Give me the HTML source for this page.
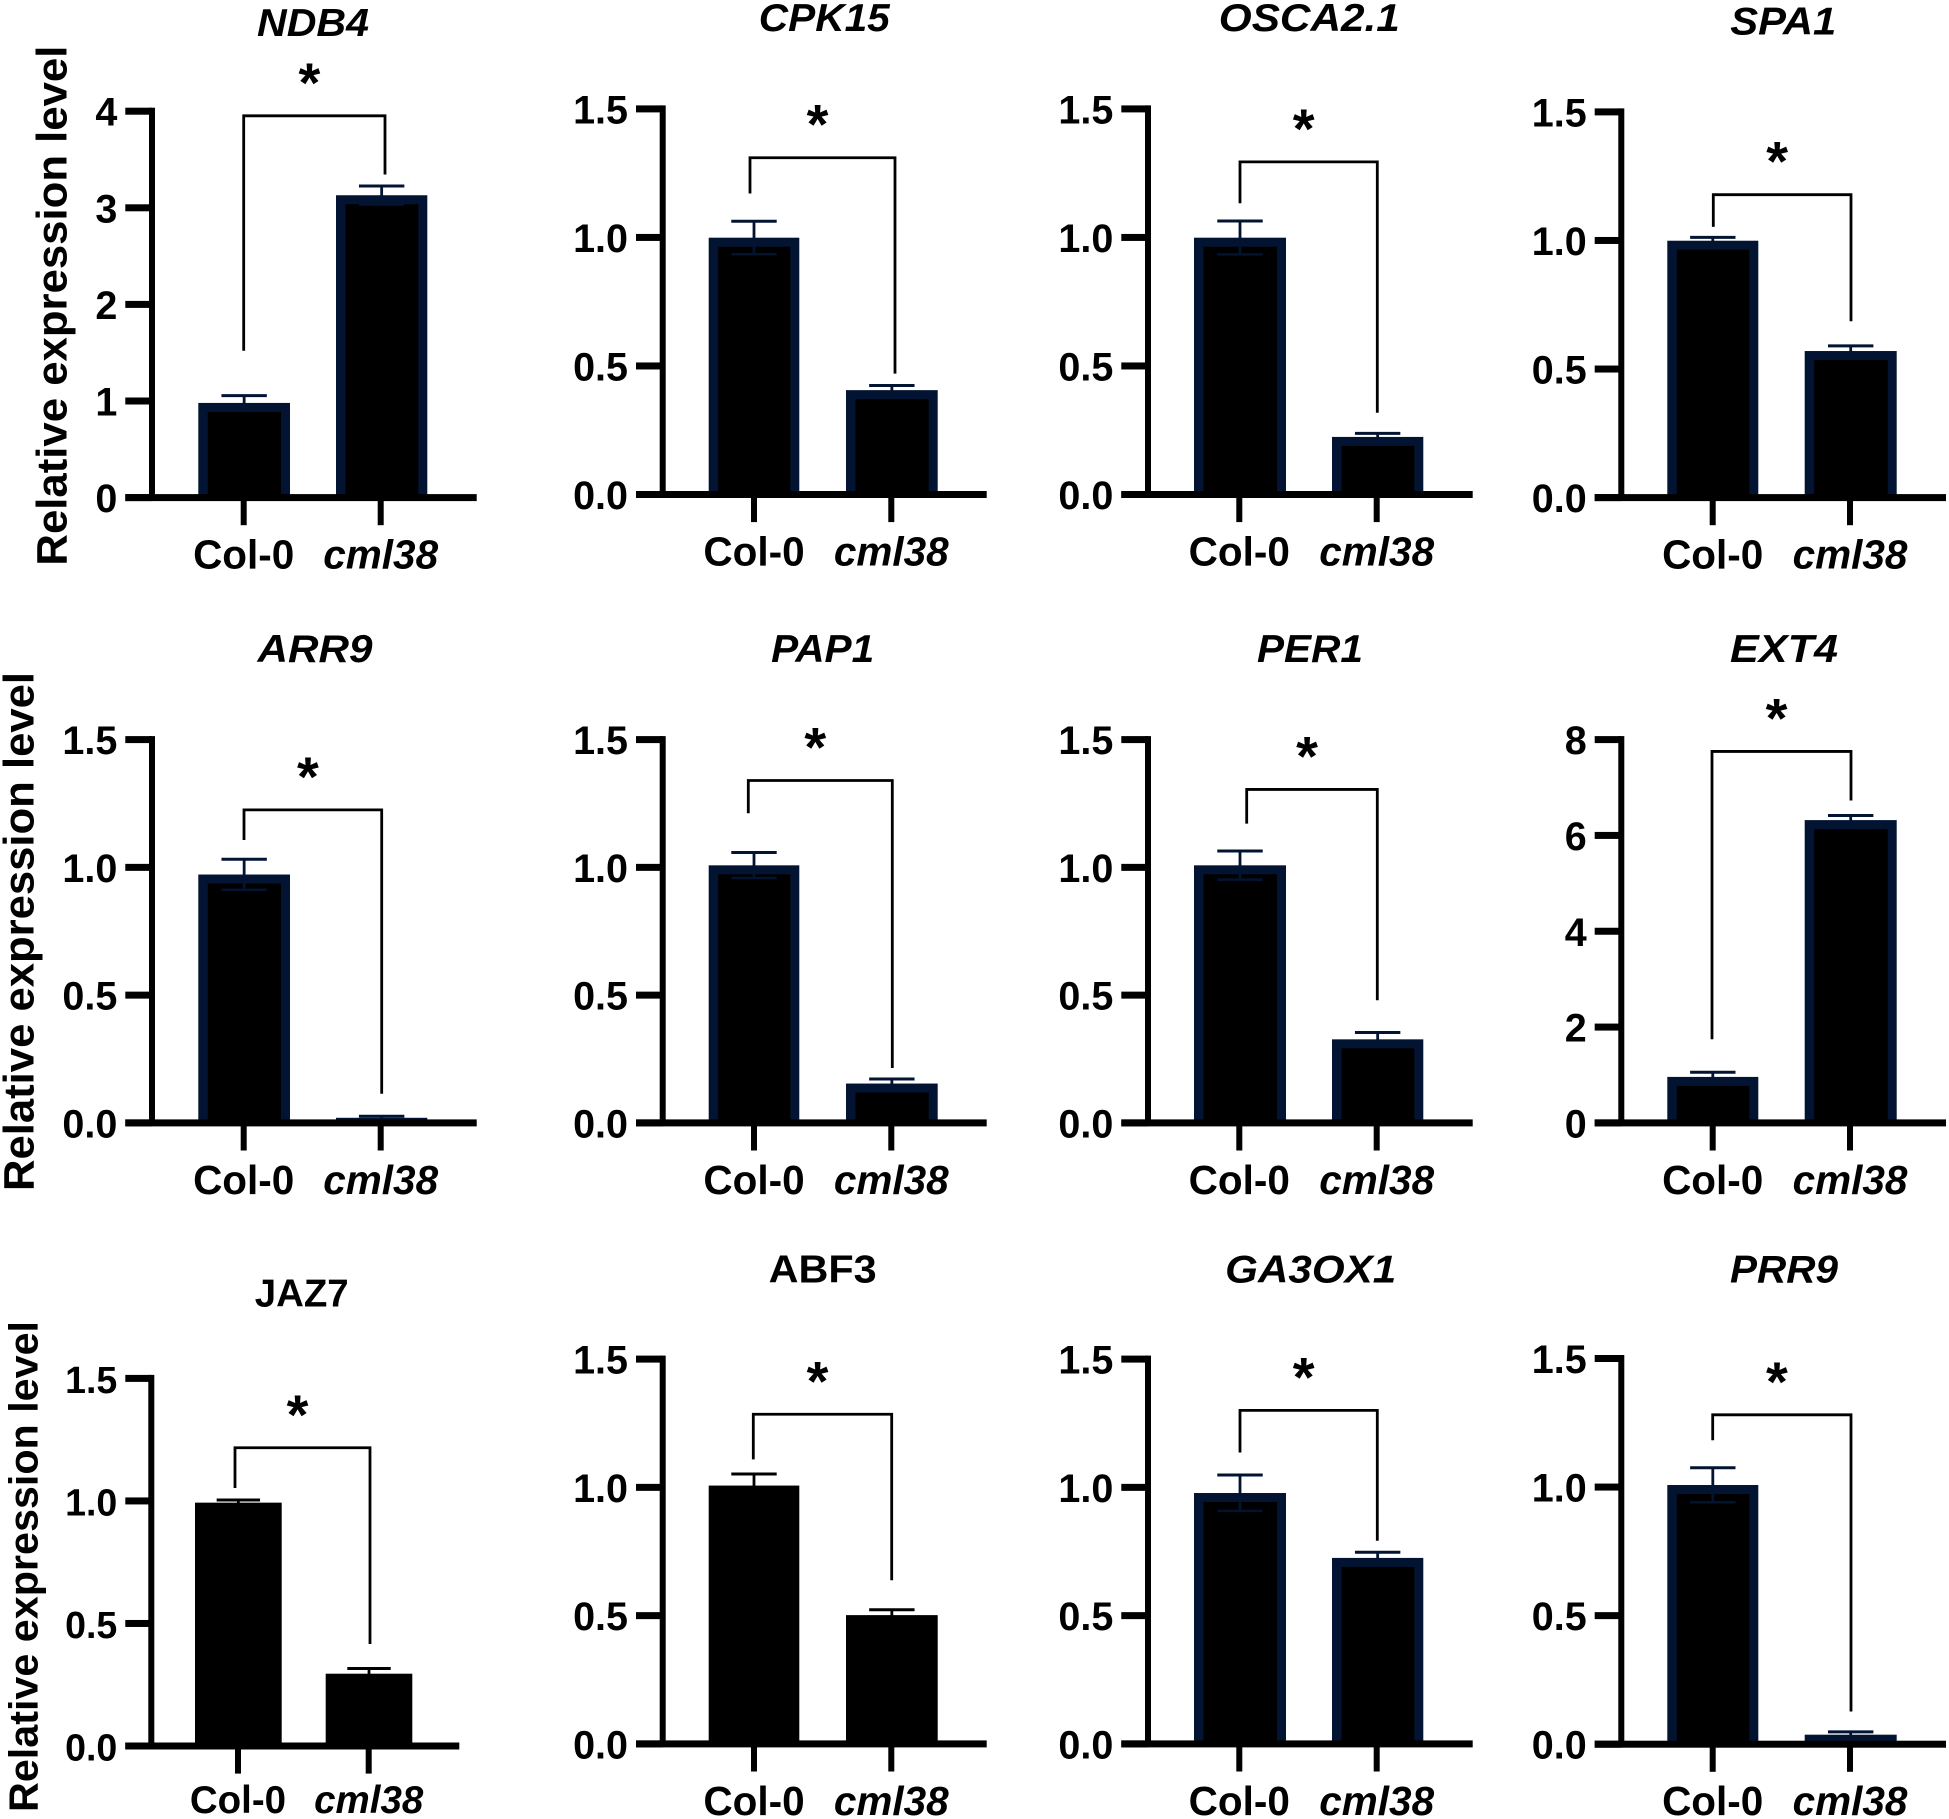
<!DOCTYPE html>
<html lang="en">
<head>
<meta charset="utf-8">
<title>Relative expression of twelve genes in Col-0 and cml38</title>
<style>
html,body{margin:0;padding:0;background:#fff;}
svg{display:block;}
text{font-family:"Liberation Sans",Arial,sans-serif;font-weight:700;fill:#000;}
</style>
</head>
<body>
<svg id="figure" xmlns="http://www.w3.org/2000/svg" width="1949" height="1819" viewBox="0 0 1949 1819">
<rect x="0" y="0" width="1949" height="1819" fill="#ffffff"></rect>
</svg>
<script>
// ---- chart data ----
const genes = ['NDB4','CPK15','OSCA2.1','SPA1','ARR9','PAP1','PER1','EXT4','JAZ7','ABF3','GA3OX1','PRR9'];
const categories = ['Col-0','cml38'];
const yAxisTitle = 'Relative expression level';
const significanceMark = '*';
const col0Values = [0.98,0.999,0.999,0.999,0.972,1.008,1.008,0.96,0.993,1.007,0.978,1.008];
const cml38Values = [3.13,0.406,0.224,0.57,0.02,0.154,0.327,6.32,0.295,0.502,0.725,0.037];
const col0Errors = [0.076,0.064,0.065,0.013,0.06,0.05,0.056,0.096,0.011,0.045,0.07,0.067];
const cml38Errors = [0.096,0.018,0.014,0.02,0.006,0.018,0.027,0.096,0.021,0.021,0.022,0.011];
const ticksNDB4 = ['0','1','2','3','4'];
const ticksStandard = ['0.0','0.5','1.0','1.5'];
const ticksEXT4 = ['0','2','4','6','8'];
const panelTicks = [ticksNDB4,ticksStandard,ticksStandard,ticksStandard,ticksStandard,ticksStandard,ticksStandard,ticksEXT4,ticksStandard,ticksStandard,ticksStandard,ticksStandard];
// significance brackets, in axis units
const bracketTop = [3.952,1.31,1.294,1.178,1.225,1.34,1.305,7.753,1.217,1.285,1.30,1.281];
const bracketLeftEnd = [1.52,1.171,1.133,1.053,1.107,1.212,1.171,1.745,1.053,1.109,1.136,1.182];
const bracketRightEnd = [3.345,0.47,0.318,0.686,0.114,0.215,0.48,6.728,0.416,0.638,0.792,0.127];

// ---- layout (frames only, no values) ----
const colA = {ax:152,tl:125.3,xr:476.7,t1:243.7,t2:380.7,b1:198.3,b1w:91.7,b2:336,b2w:91.3};
const colB = {ax:662.7,tl:636,xr:986.7,t1:754,t2:891.3,b1:708.7,b1w:90.6,b2:846,b2w:91.7};
const colC = {ax:1148,tl:1121.3,xr:1472.7,t1:1239.3,t2:1376.7,b1:1194,b1w:92,b2:1332,b2w:91.3};
const colD = {ax:1621.3,tl:1594.7,xr:1946,t1:1712.7,t2:1850,b1:1667.3,b1w:91,b2:1804.7,b2w:92};
const colJ = {ax:151.3,tl:125.3,xr:459.3,t1:238,t2:368.7,b1:195,b1w:86.7,b2:325.7,b2w:86.6};
const frames = [
  {c:colA,top:111.2,zero:497.6,tx:313,ty:36,tw:112,it:1,nav:1,bl:243.7,br:385,cw:22.7,xs:1,lb:71},
  {c:colB,top:108.9,zero:494.5,tx:824.3,ty:31.2,tw:131,it:1,nav:1,bl:750,br:895,cw:22.7,xs:1,lb:71},
  {c:colC,top:108.9,zero:494.5,tx:1309.3,ty:31.2,tw:181,it:1,nav:1,bl:1240,br:1377.3,cw:22.7,xs:1,lb:71},
  {c:colD,top:111.9,zero:497.6,tx:1783.3,ty:34.3,tw:106,it:1,nav:1,bl:1713.3,br:1851,cw:22.7,xs:1,lb:71},
  {c:colA,top:739.6,zero:1122.9,tx:315,ty:661.9,tw:115,it:1,nav:1,bl:244,br:381.7,cw:22.7,xs:1,lb:71},
  {c:colB,top:739.6,zero:1122.9,tx:822.7,ty:661.9,tw:103,it:1,nav:1,bl:748.3,br:892.3,cw:22.7,xs:1,lb:71},
  {c:colC,top:739.6,zero:1122.9,tx:1310,ty:661.9,tw:106,it:1,nav:1,bl:1246.7,br:1377.3,cw:22.7,xs:1,lb:71},
  {c:colD,top:739.6,zero:1122.9,tx:1784,ty:661.9,tw:108,it:1,nav:1,bl:1712,br:1851,cw:22.7,xs:1,lb:71},
  {c:colJ,top:1378.4,zero:1746,tx:301.7,ty:1306.3,tw:94,it:0,nav:0,bl:235,br:370,cw:21.7,xs:0.95,lb:67},
  {c:colB,top:1359.1,zero:1743.9,tx:822.7,ty:1282.4,tw:108,it:0,nav:0,bl:753.3,br:891.7,cw:22.7,xs:1,lb:71},
  {c:colC,top:1359.1,zero:1743.9,tx:1310.7,ty:1282.4,tw:171,it:1,nav:1,bl:1240,br:1377.3,cw:22.7,xs:1,lb:71},
  {c:colD,top:1358.5,zero:1744.2,tx:1784,ty:1282.3,tw:108,it:1,nav:1,bl:1712.7,br:1851,cw:22.7,xs:1,lb:71}
];
const yTitles = [
  {panel:0,x:66.7,cy:305.6,len:520,fs:43},
  {panel:4,x:33.3,cy:931.5,len:519,fs:43},
  {panel:8,x:37.7,cy:1566.5,len:491,fs:41}
];

const NS = 'http://www.w3.org/2000/svg';
const svg = document.getElementById('figure');
const NAVY = '#021431';
function make(tag, parent, attrs){
  const e = document.createElementNS(NS, tag);
  for (const k in attrs) e.setAttribute(k, attrs[k]);
  parent.appendChild(e);
  return e;
}

function drawBar(g, panel, f, y, idx, value, err){
  const c = f.c;
  const left = idx === 0 ? c.b1 : c.b2;
  const w = idx === 0 ? c.b1w : c.b2w;
  const cx = left + w / 2;
  const yTop = y(value);
  const color = f.nav ? NAVY : '#000';
  const bar = make('rect', g, {x:left,y:yTop,width:w,height:Math.max(0,f.zero-yTop),fill:color});
  
  
  if (f.nav && f.zero - yTop > 10){
    const inner = make('rect', g, {x:left+9.5,y:yTop+9,width:w-18.5,height:f.zero-yTop-9,fill:'#000'});
    
    
  }
  const yHi = y(value + err), yLo = Math.min(y(value - err), f.zero);
  const stem = make('line', g, {x1:cx,x2:cx,y1:yHi,y2:yLo,stroke:color,'stroke-width':2.8});
  
  
  const capHi = make('line', g, {x1:cx-f.cw,x2:cx+f.cw,y1:yHi,y2:yHi,stroke:color,'stroke-width':3});
  
  
  const capLo = make('line', g, {x1:cx-f.cw,x2:cx+f.cw,y1:yLo,y2:yLo,stroke:color,'stroke-width':2.4});
  
  
}

genes.forEach(function(gene, i){
  const f = frames[i], c = f.c, ticks = panelTicks[i];
  const maxV = parseFloat(ticks[ticks.length-1]);
  const y = function(v){ return f.zero - (f.zero - f.top) * v / maxV; };

  const g = make('g', svg, {});
  
  

  // title
  const title = make('text', g, {x:f.tx,y:f.ty,'text-anchor':'middle','font-size':39,textLength:f.tw,lengthAdjust:'spacingAndGlyphs','font-style':f.it?'italic':'normal'});
  title.textContent = gene;
  
  

  // bars drawn first so the axis sits above them
  drawBar(g, i, f, y, 0, col0Values[i], col0Errors[i]);
  drawBar(g, i, f, y, 1, cml38Values[i], cml38Errors[i]);

  // y axis
  const yAxis = make('rect', g, {x:c.ax-3,y:f.top-3.5,width:6,height:f.zero-f.top+3.5,fill:'#000'});
  
  
  ticks.forEach(function(lbl){
    const ty = y(parseFloat(lbl));
    const tick = make('rect', g, {x:c.tl,y:ty-3.5,width:c.ax-c.tl,height:7,fill:'#000'});
    
    
    const t = make('text', g, {x:c.tl-8,y:ty+14.5,'text-anchor':'end','font-size':39.5*f.xs});
    t.textContent = lbl;
    
    
  });

  // x axis
  const xAxis = make('rect', g, {x:c.tl,y:f.zero-3.5,width:c.xr-c.tl,height:7,fill:'#000'});
  
  
  categories.forEach(function(cat, k){
    const tx = k === 0 ? c.t1 : c.t2;
    const tick = make('rect', g, {x:tx-3,y:f.zero,width:6,height:27.6,fill:'#000'});
    
    
    const t = make('text', g, {x:tx,y:f.zero+f.lb,'text-anchor':'middle','font-size':40.5*f.xs,'font-style':k===1?'italic':'normal'});
    t.textContent = cat;
    
    
  });

  // significance bracket
  const bt = y(bracketTop[i]);
  const path = make('path', g, {d:'M'+f.bl+' '+y(bracketLeftEnd[i])+'V'+bt+'H'+f.br+'V'+y(bracketRightEnd[i]),fill:'none',stroke:'#000','stroke-width':2.8});
  
  
  const star = make('text', g, {x:(f.bl+f.br)/2-5,y:bt-14,'text-anchor':'middle','font-size':56});
  star.textContent = significanceMark;
  
  
});

yTitles.forEach(function(o){
  const t = make('text', svg, {transform:'translate('+o.x+','+o.cy+') rotate(-90)','text-anchor':'middle','font-size':o.fs,textLength:o.len,lengthAdjust:'spacingAndGlyphs'});
  t.textContent = yAxisTitle;
  
  
});
</script>
</body>
</html>
